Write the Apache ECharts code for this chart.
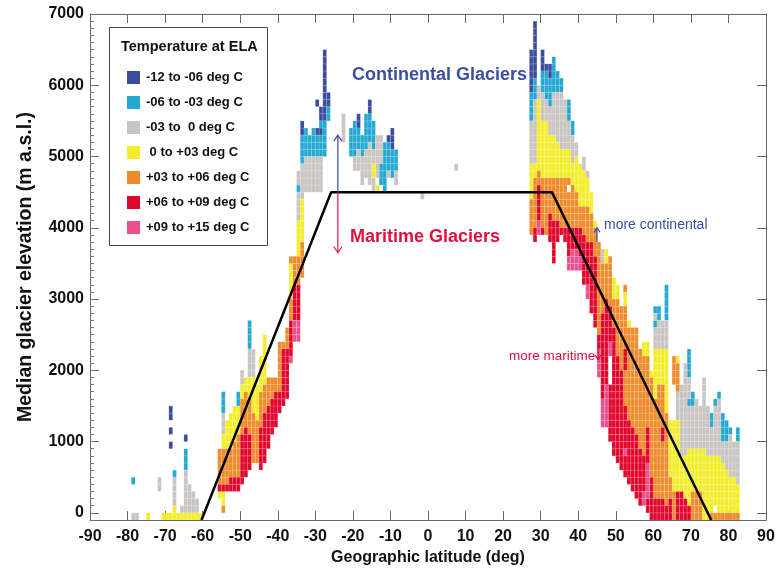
<!DOCTYPE html>
<html><head><meta charset="utf-8">
<script src="https://cdn.jsdelivr.net/npm/echarts@6/dist/echarts.min.js"></script>
<style>html,body{margin:0;padding:0;background:#fff}#c{width:778px;height:571px}</style>
</head><body><div id="c"></div>
<script>
// Temperature classes (legend)
const classNames = ['-12 to -06 deg C', '-06 to -03 deg C', '-03 to  0 deg C', ' 0 to +03 deg C', '+03 to +06 deg C', '+06 to +09 deg C', '+09 to +15 deg C'];
const classColors = ['#3b4c9e', '#22a9d1', '#c9c5c3', '#f3ee2b', '#ee8b2b', '#e1062c', '#e8508e'];
// Axis ticks
const elevTicks = [0, 1000, 2000, 3000, 4000, 5000, 6000, 7000];
// Cell runs: [latitude bin start (deg), class 1..7, first 100 m bin, last 100 m bin]
// bin k covers elevations (k-1)*100 .. k*100 m
const southRuns = [
 [-79,3,0,0],[-79,2,5,5],[-78,3,0,0],[-75,4,0,0],[-72,3,4,5],[-71,4,0,0],[-70,4,0,0],
 [-69,4,0,0],[-69,1,10,10],[-69,1,12,12],[-69,1,14,15],
 [-68,4,0,1],[-68,3,2,5],[-68,2,6,6],[-67,4,0,0],[-66,4,0,0],[-66,3,1,1],
 [-65,4,0,0],[-65,3,1,6],[-65,2,7,9],[-65,1,11,11],
 [-64,4,0,0],[-64,3,1,4],[-63,4,0,0],[-63,3,1,3],[-62,4,0,0],[-62,3,1,2],[-61,4,0,0],
 [-56,4,3,3],[-56,6,4,4],[-56,5,5,9],
 [-55,5,1,1],[-55,4,2,3],[-55,6,4,4],[-55,5,5,9],[-55,4,10,11],[-55,3,12,14],[-55,2,15,17],
 [-54,6,4,4],[-54,5,5,9],[-54,4,10,13],
 [-53,6,4,5],[-53,5,6,9],[-53,4,10,14],
 [-52,6,4,5],[-52,5,6,10],[-52,4,11,15],
 [-51,6,4,5],[-51,5,6,11],[-51,4,12,15],[-51,2,16,17],
 [-50,6,5,11],[-50,5,12,16],[-50,4,17,18],[-50,3,19,20],
 [-49,6,6,12],[-49,5,13,17],[-49,4,18,19],
 [-48,6,7,11],[-48,5,12,16],[-48,4,17,19],[-48,3,20,23],[-48,2,24,27],
 [-47,5,8,14],[-47,4,15,19],[-47,3,20,23],
 [-46,5,8,13],[-46,4,14,18],
 [-45,6,7,12],[-45,5,13,17],[-45,4,18,22],
 [-44,6,8,14],[-44,5,15,18],[-44,4,19,25],
 [-43,6,10,15],[-43,5,16,19],
 [-42,6,12,16],[-42,5,17,19],
 [-41,6,13,17],[-41,5,18,19],
 [-40,6,15,17],[-40,5,18,24],
 [-39,6,16,23],[-39,5,24,24],
 [-38,6,17,23],[-38,5,24,26],
 [-37,7,22,22],[-37,6,23,27],[-37,5,28,30],[-37,4,31,35],[-37,5,36,36],
 [-36,7,25,27],[-36,6,28,32],[-36,5,33,36],
 [-35,7,25,27],[-35,6,28,32],[-35,5,33,36],[-35,4,37,41],[-35,3,42,45],[-35,2,46,46],[-35,3,47,48],
 [-34,5,34,38],[-34,4,39,44],[-34,3,45,49],[-34,2,50,53],[-34,1,54,55],
 [-33,3,46,50],[-33,2,51,54],
 [-32,3,46,50],[-32,2,51,53],
 [-31,3,46,50],[-31,2,51,54],
 [-30,3,46,50],[-30,2,51,53],[-30,1,54,54],[-30,1,58,58],
 [-29,3,46,50],[-29,2,51,53],[-29,1,54,54],[-29,2,55,55],[-29,1,56,57],
 [-28,2,51,55],[-28,1,56,65],
 [-27,2,56,57],[-27,1,58,59],
 [-23,3,53,56],
 [-21,2,51,54],
 [-20,3,49,50],[-20,2,51,55],
 [-19,3,49,51],[-19,2,52,54],[-19,1,55,56],
 [-18,3,47,50],[-18,2,51,53],
 [-17,3,48,51],[-17,2,52,56],
 [-16,3,47,52],[-16,2,53,56],[-16,1,57,58],
 [-15,3,46,47],[-15,4,48,49],[-15,3,50,51],[-15,2,52,55],
 [-14,4,46,46],[-14,3,48,53],
 [-13,2,47,49],[-13,3,50,53],
 [-12,2,46,52],
 [-11,3,48,48],[-11,2,49,52],[-11,1,53,53],
 [-10,2,48,51],[-10,1,52,54],
 [-9,3,47,48],[-9,2,49,51],
 [-2,3,45,45],[7,3,49,49]
];
const northRuns = [
 [27,5,40,44],[27,4,45,49],[27,3,50,55],[27,2,56,59],[27,1,60,65],
 [28,6,39,40],[28,5,41,47],[28,4,48,49],[28,3,50,58],[28,2,59,61],[28,1,62,69],
 [29,7,40,41],[29,6,42,46],[29,5,47,48],[29,4,49,58],[29,3,59,60],
 [30,6,40,40],[30,5,41,47],[30,4,48,55],[30,3,56,59],[30,2,60,62],[30,1,63,65],
 [31,5,40,47],[31,4,48,55],[31,3,56,58],[31,2,59,62],[31,1,63,63],
 [32,6,39,42],[32,5,43,47],[32,4,48,53],[32,3,54,57],[32,2,58,61],[32,1,62,63],
 [33,6,36,41],[33,5,42,47],[33,4,48,53],[33,3,54,59],[33,2,60,64],
 [34,6,39,41],[34,5,42,47],[34,4,48,52],[34,3,53,59],[34,2,60,62],
 [35,6,40,40],[35,5,41,47],[35,4,48,51],[35,3,52,59],[35,2,60,61],
 [36,6,39,40],[36,5,41,47],[36,4,48,51],[36,3,52,58],
 [37,7,35,36],[37,6,37,40],[37,5,41,45],[37,5,47,47],[37,4,48,51],[37,3,52,55],[37,2,56,58],
 [38,7,35,37],[38,6,38,40],[38,5,41,46],[38,4,47,49],[38,3,50,53],[38,2,54,55],
 [39,7,35,37],[39,6,38,40],[39,5,41,45],[39,4,46,50],[39,3,51,52],
 [40,7,35,36],[40,6,37,40],[40,5,41,43],[40,4,44,49],
 [41,6,33,39],[41,5,40,43],[41,4,44,48],[41,3,49,50],
 [42,7,31,32],[42,6,33,38],[42,5,39,43],[42,4,44,47],[42,3,48,48],
 [43,6,29,38],[43,5,39,42],[43,4,43,45],
 [44,6,27,36],[44,5,37,40],[44,4,41,41],
 [45,7,20,23],[45,6,24,25],[45,5,26,38],
 [46,7,13,16],[46,6,17,28],[46,5,29,35],[46,3,36,37],
 [47,7,13,18],[47,6,19,30],[47,5,31,35],[47,4,36,37],
 [48,6,11,18],[48,7,23,24],[48,6,25,29],[48,5,30,36],
 [49,6,9,26],[49,5,27,30],[49,4,31,33],
 [50,6,8,22],[50,5,23,30],[50,4,31,32],
 [51,6,7,20],[51,5,21,29],
 [52,6,6,8],[52,7,9,9],[52,6,10,15],[52,5,16,20],[52,6,21,23],[52,5,24,29],[52,4,30,31],[52,5,32,32],
 [53,6,5,13],[53,5,14,26],[53,4,27,27],
 [54,6,4,12],[54,5,13,26],
 [55,6,3,11],[55,5,12,26],
 [56,6,2,9],[56,5,10,23],
 [57,7,2,3],[57,6,4,8],[57,5,9,22],[57,4,23,24],
 [58,6,1,2],[58,7,3,7],[58,6,8,12],[58,5,13,22],[58,4,23,24],
 [59,6,0,5],[59,5,6,19],[59,4,20,20],
 [60,6,0,2],[60,5,3,16],[60,4,17,23],[60,3,24,26],[60,2,27,27],[60,3,28,28],[60,2,29,29],
 [61,6,0,2],[61,5,3,18],[61,4,19,23],[61,3,24,27],[61,2,28,29],
 [62,6,0,2],[62,5,3,10],[62,6,11,12],[62,5,13,18],[62,4,19,23],[62,3,24,27],
 [63,6,0,1],[63,5,2,14],[63,4,15,23],[63,3,24,27],[63,2,28,32],
 [64,6,0,2],[64,5,3,5],[64,4,6,13],
 [65,5,0,3],[65,4,4,13],[65,5,19,22],
 [66,6,0,3],[66,4,4,13],[66,3,14,17],[66,5,18,21],[66,4,22,22],
 [67,6,0,3],[67,4,4,8],[67,3,9,18],
 [68,6,0,2],[68,4,3,8],[68,3,9,21],
 [69,6,0,1],[69,4,2,9],[69,3,10,15],[69,2,16,16],[69,3,17,19],[69,2,20,23],
 [70,5,0,3],[70,4,4,9],[70,3,10,15],[70,2,16,17],
 [71,5,0,3],[71,4,4,9],[71,3,10,16],
 [72,5,0,3],[72,4,4,9],[72,3,10,15],
 [73,4,0,9],[73,3,10,19],
 [74,4,0,8],[74,3,9,15],
 [75,5,0,0],[75,4,1,8],[75,3,9,12],[75,2,13,14],
 [76,5,0,0],[76,4,2,8],[76,3,9,15],[76,2,16,16],
 [77,5,0,0],[77,4,1,8],[77,3,9,16],[77,2,17,17],
 [78,5,0,0],[78,4,1,7],[78,3,8,10],[78,2,11,14],
 [79,5,0,0],[79,4,1,6],[79,3,7,10],[79,2,11,13],
 [80,5,0,0],[80,4,1,5],[80,3,6,11],[80,2,12,12],
 [81,5,0,0],[81,4,1,5],[81,3,6,10],
 [82,5,0,0],[82,4,1,4],[82,3,5,10],[82,2,11,12]
];
// Schematic envelope (black line)
const envelopeLat = [-60.3, -25.8, 33, 75.4];
const envelopeElev = [-100, 4500, 4500, -100];

const FONT = "'Liberation Sans',Arial,Helvetica,sans-serif";
const allRuns = southRuns.concat(northRuns);
const chart = echarts.init(document.getElementById('c'), null, {renderer: 'canvas'});

function cellSeries(cls) {
  const data = [];
  allRuns.forEach(r => {
    if (r[1] !== cls) return;
    for (let k = r[2]; k <= r[3]; k++) data.push([r[0], (k - 1) * 100, k * 100]);
  });
  const col = classColors[cls - 1];
  return {
    type: 'custom', name: classNames[cls - 1], coordinateSystem: 'cartesian2d',
    xAxisIndex: 0, yAxisIndex: 0, clip: true, silent: true,
    itemStyle: {color: col}, encode: {x: 0, y: [1, 2]}, data: data,
    renderItem: function (params, api) {
      const a = api.coord([api.value(0), api.value(2)]);
      const b = api.coord([api.value(0) + 1, api.value(1)]);
      return {type: 'rect', shape: {x: a[0], y: a[1], width: b[0] - a[0], height: b[1] - a[1]},
        style: {fill: col, stroke: 'rgba(255,255,255,0.28)', lineWidth: 0.5}};
    }
  };
}
const series = [1, 2, 3, 4, 5, 6, 7].map(cellSeries);
series.push({
  type: 'line', name: 'envelope', xAxisIndex: 0, yAxisIndex: 0, symbol: 'none', silent: true,
  data: envelopeLat.map((v, i) => [v, envelopeElev[i]]),
  lineStyle: {color: '#000', width: 2.5}, z: 5
});

const minorVals = [];
for (let v = -100; v <= 7000; v += 100) minorVals.push(v);
const plain = v => String(v);

chart.setOption({
  animation: false,
  backgroundColor: '#fff',
  grid: {left: 90, right: 12, top: 14, bottom: 51, containLabel: false},
  xAxis: [
    {type: 'value', position: 'bottom', min: -90, max: 90, interval: 10,
     axisLine: {show: true, onZero: false, lineStyle: {color: '#666'}},
     axisTick: {show: true, inside: true, length: 9, lineStyle: {color: '#666'}},
     axisLabel: {color: '#111', fontFamily: FONT, fontWeight: 'bold', fontSize: 16, margin: 9, formatter: plain},
     splitLine: {show: false},
     name: 'Geographic latitude (deg)', nameLocation: 'middle', nameGap: 30,
     nameTextStyle: {color: '#111', fontFamily: FONT, fontWeight: 'bold', fontSize: 16}},
    {type: 'value', position: 'top', min: -90, max: 90, interval: 10,
     axisLine: {show: true, onZero: false, lineStyle: {color: '#666'}},
     axisTick: {show: true, inside: true, length: 9, lineStyle: {color: '#666'}},
     axisLabel: {show: false}, splitLine: {show: false}}
  ],
  yAxis: [
    {type: 'value', position: 'left', min: -100, max: 7000,
     axisLine: {show: true, onZero: false, lineStyle: {color: '#666'}},
     axisTick: {show: true, inside: true, length: 9, customValues: elevTicks, lineStyle: {color: '#666'}},
     axisLabel: {customValues: elevTicks, color: '#111', fontFamily: FONT, fontWeight: 'bold', fontSize: 16, margin: 6, formatter: plain},
     splitLine: {show: false},
     name: 'Median glacier elevation (m a.s.l.)', nameLocation: 'middle', nameGap: 54,
     nameTextStyle: {color: '#111', fontFamily: FONT, fontWeight: 'bold', fontSize: 19.5}},
    {type: 'value', position: 'right', min: -100, max: 7000,
     axisLine: {show: true, onZero: false, lineStyle: {color: '#666'}},
     axisTick: {show: true, inside: true, length: 9, customValues: elevTicks, lineStyle: {color: '#666'}},
     axisLabel: {show: false}, splitLine: {show: false}},
    {type: 'value', position: 'left', min: -100, max: 7000,
     axisLine: {show: false, onZero: false},
     axisTick: {show: true, inside: true, length: 4, customValues: minorVals, lineStyle: {color: '#777'}},
     axisLabel: {show: false}, splitLine: {show: false}}
  ],
  legend: {
    orient: 'vertical', left: 122, top: 66, itemWidth: 13, itemHeight: 13, itemGap: 12,
    icon: 'rect', selectedMode: false,
    data: classNames,
    textStyle: {color: '#111', fontFamily: FONT, fontWeight: 'bold', fontSize: 13, padding: [0, 0, 0, 1]}
  },
  graphic: [
    {type: 'rect', left: 109, top: 27, z: 10, shape: {width: 158, height: 218},
     style: {fill: 'rgba(255,255,255,0)', stroke: '#444', lineWidth: 1}},
    {type: 'text', left: 121, top: 39, z: 11,
     style: {text: 'Temperature at ELA', fill: '#111', font: 'bold 14.5px ' + FONT}},
    {type: 'text', left: 352, top: 66, z: 11,
     style: {text: 'Continental Glaciers', fill: '#3b4fa0', font: 'bold 18px ' + FONT}},
    {type: 'text', left: 350, top: 228, z: 11,
     style: {text: 'Maritime Glaciers', fill: '#e0103c', font: 'bold 18px ' + FONT}},
    {type: 'text', left: 604, top: 218, z: 11,
     style: {text: 'more continental', fill: '#3b4fa0', font: '14px ' + FONT}},
    {type: 'text', left: 509, top: 349, z: 11,
     style: {text: 'more maritime', fill: '#e0103c', font: '13.5px ' + FONT}}
  ],
  series: series
});

// Annotation arrows positioned through the axes
function arrow(lat, e0, e1, color, head, width) {
  const p0 = chart.convertToPixel({xAxisIndex: 0, yAxisIndex: 0}, [lat, e0]);
  const p1 = chart.convertToPixel({xAxisIndex: 0, yAxisIndex: 0}, [lat, e1]);
  const dir = p1[1] < p0[1] ? 1 : -1;
  return [
    {type: 'line', z: 12, shape: {x1: p0[0], y1: p0[1], x2: p1[0], y2: p1[1]}, style: {stroke: color, lineWidth: width}},
    {type: 'polyline', z: 12, shape: {points: [[p1[0] - head, p1[1] + dir * head * 1.5], [p1[0], p1[1]], [p1[0] + head, p1[1] + dir * head * 1.5]]},
     style: {stroke: color, lineWidth: width, fill: null}}
  ];
}
const extra = [].concat(
  arrow(-24, 4500, 5300, '#3b4fa0', 4, 1.2),
  arrow(-24, 4500, 3650, '#d8173c', 4, 1.2),
  arrow(45, 3800, 4000, '#3b4fa0', 3, 1.2),
  arrow(45.3, 2400, 2150, '#d8173c', 3, 1.2)
);
const opt = chart.getOption();
chart.setOption({graphic: opt.graphic[0].elements.concat(extra)}, {replaceMerge: []});
</script>
</body></html>
